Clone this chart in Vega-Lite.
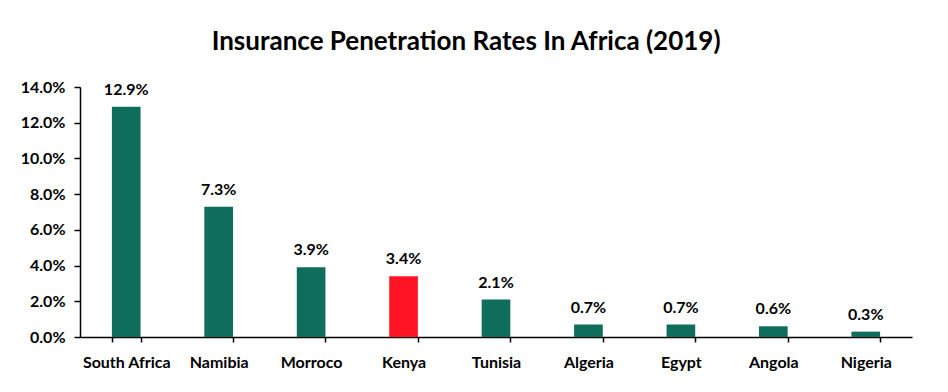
{
  "$schema": "https://vega.github.io/schema/vega-lite/v6.json",
  "autosize": {"type": "none"},
  "width": 832,
  "height": 250,
  "padding": {"left": 80, "top": 87, "right": 36, "bottom": 55},
  "background": "white",
  "title": {
    "text": "Insurance Penetration Rates In Africa (2019)",
    "font": "Lato",
    "fontSize": 26,
    "fontWeight": "bold",
    "color": "#000000",
    "anchor": "middle",
    "frame": "bounds",
    "offset": 24
  },
  "config": {
    "view": {"stroke": null},
    "font": "Lato"
  },
  "data": {
    "values": [
      {"country": "South Africa", "rate": 0.129},
      {"country": "Namibia", "rate": 0.073},
      {"country": "Morroco", "rate": 0.039},
      {"country": "Kenya", "rate": 0.034},
      {"country": "Tunisia", "rate": 0.021},
      {"country": "Algeria", "rate": 0.007},
      {"country": "Egypt", "rate": 0.007},
      {"country": "Angola", "rate": 0.006},
      {"country": "Nigeria", "rate": 0.003}
    ]
  },
  "encoding": {
    "x": {
      "field": "country",
      "type": "nominal",
      "sort": null,
      "title": null,
      "scale": {"paddingInner": 0.69, "paddingOuter": 0.345},
      "axis": {
        "labelAngle": 0,
        "labelFont": "Lato",
        "labelFontSize": 16,
        "labelFontWeight": "bold",
        "labelColor": "#000000",
        "domainColor": "#000000",
        "domainWidth": 1.5,
        "tickColor": "#000000",
        "tickWidth": 1.5,
        "tickSize": 5,
        "tickBand": "extent",
        "labelPadding": 12
      }
    },
    "y": {
      "field": "rate",
      "type": "quantitative",
      "title": null,
      "scale": {"domain": [0, 0.14], "nice": false},
      "axis": {
        "format": ".1%",
        "values": [0, 0.02, 0.04, 0.06, 0.08, 0.1, 0.12, 0.14],
        "grid": false,
        "labelFont": "Lato",
        "labelFontSize": 16,
        "labelFontWeight": "bold",
        "labelColor": "#000000",
        "domainColor": "#000000",
        "domainWidth": 1.5,
        "tickColor": "#000000",
        "tickWidth": 1.5,
        "tickSize": 6,
        "labelPadding": 9
      }
    }
  },
  "layer": [
    {
      "mark": {"type": "bar"},
      "encoding": {
        "color": {
          "condition": {"test": "datum.country === 'Kenya'", "value": "#FF1424"},
          "value": "#0F6E5B"
        }
      }
    },
    {
      "mark": {
        "type": "text",
        "baseline": "bottom",
        "dy": -9,
        "font": "Lato",
        "fontSize": 16,
        "fontWeight": "bold",
        "color": "#000000"
      },
      "encoding": {
        "text": {"field": "rate", "type": "quantitative", "format": ".1%"}
      }
    }
  ]
}
